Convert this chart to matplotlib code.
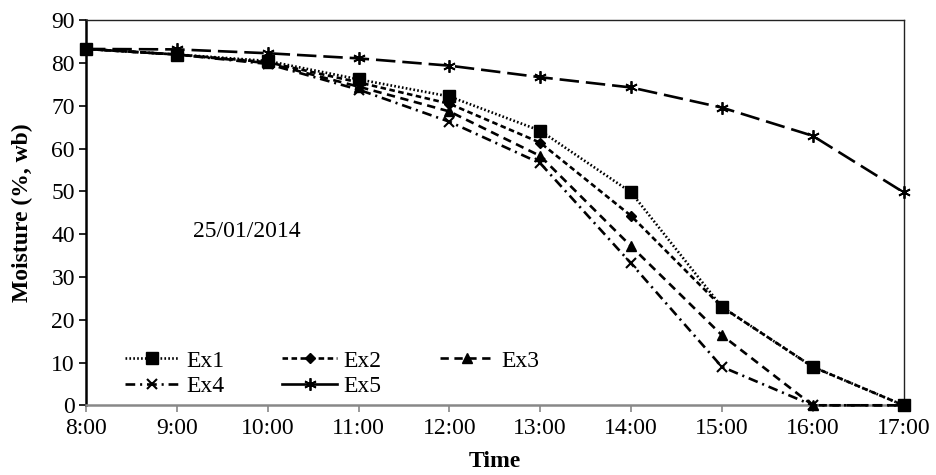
import matplotlib
matplotlib.use("Agg")
import matplotlib.pyplot as plt
from matplotlib.lines import Line2D

plt.rcParams['font.family'] = ['Liberation Serif', 'DejaVu Serif']
plt.rcParams['lines.scale_dashes'] = False

times = ["8:00", "9:00", "10:00", "11:00", "12:00", "13:00", "14:00", "15:00", "16:00", "17:00"]
ex1 = [83.3, 82.0, 80.5, 76.2, 72.2, 64.2, 49.8, 23.0, 9.0, 0.0]
ex2 = [83.3, 82.0, 80.2, 75.5, 70.5, 61.4, 44.3, 23.0, 9.0, 0.0]
ex3 = [83.3, 82.0, 80.0, 74.5, 68.7, 58.3, 37.2, 16.4, 0.0, 0.0]
ex4 = [83.3, 82.0, 79.8, 73.8, 66.3, 56.6, 33.2, 9.0, 0.0, 0.0]
ex5 = [83.3, 83.2, 82.3, 81.1, 79.4, 76.7, 74.3, 69.6, 63.0, 49.8]
date_label = "25/01/2014"

fig = plt.figure(figsize=(9.36, 4.75), dpi=100)
ax = fig.add_axes([86/936, 1 - 405.3/475, (903.5-86)/936, (405.3-20.3)/475])

x = list(range(len(times)))
fs = 17
lw = 1.9
h1, = ax.plot(x, ex1, color='black', lw=lw, dashes=(1.2, 1.6), marker='s', ms=8, label='Ex1', zorder=3, clip_on=False)
h2, = ax.plot(x, ex2, color='black', lw=lw, dashes=(4, 2.5), marker='D', ms=5.5, label='Ex2', zorder=3, clip_on=False)
h3, = ax.plot(x, ex3, color='black', lw=lw, dashes=(6, 4), marker='^', ms=7.5, label='Ex3', zorder=3, clip_on=False)
h4, = ax.plot(x, ex4, color='black', lw=lw, dashes=(7, 3.5, 1.5, 3.5), marker='x', ms=7, mew=1.5, label='Ex4', zorder=3, clip_on=False)
h5, = ax.plot(x, ex5, color='black', lw=lw, dashes=(14, 5), marker=(6, 2, 0), ms=9, mew=1.3, label='Ex5', zorder=3, clip_on=False)
h5_leg = Line2D([], [], color='black', lw=lw, ls='-', marker=(6, 2, 0), ms=9, mew=1.3)

ax.set_xlim(0, 9)
ax.set_ylim(0, 90)
ax.set_xticks(x)
ax.set_xticklabels(times)
ax.set_yticks(range(0, 91, 10))
ax.tick_params(axis='both', labelsize=fs, direction='out', length=5)
ax.tick_params(axis='x', color='#888888', width=1.2, pad=4)
ax.tick_params(axis='y', color='black', width=1.2, pad=3)

ax.spines['left'].set_color('black')
ax.spines['left'].set_linewidth(1.8)
ax.spines['bottom'].set_color('#888888')
ax.spines['bottom'].set_linewidth(1.8)
for s in ('top', 'right'):
    ax.spines[s].set_color('#222222')
    ax.spines[s].set_linewidth(1.0)

ax.set_xlabel('Time', fontsize=fs, fontweight='bold', labelpad=9)
ax.set_ylabel('Moisture (%, wb)', fontsize=fs, fontweight='bold', labelpad=13)

ax.text(0.197, 0.451, date_label, transform=ax.transAxes, fontsize=fs, ha='center', va='center')

handles = [h1, h4, h2, h5_leg, h3]
labels = ['Ex1', 'Ex4', 'Ex2', 'Ex5', 'Ex3']
leg = ax.legend(handles, labels,
                loc='lower left', bbox_to_anchor=(39/817.5, 0.022), ncol=3, frameon=False,
                fontsize=fs, handlelength=2.3, handletextpad=0.3, columnspacing=2.45,
                labelspacing=0.15, borderaxespad=0.0, borderpad=0.0)

fig.savefig('out.png', dpi=100)
